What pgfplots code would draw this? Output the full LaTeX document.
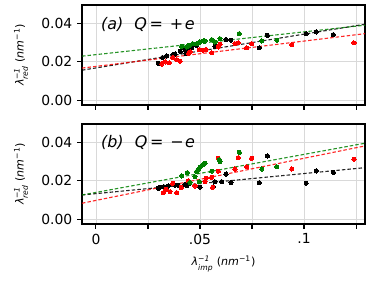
\documentclass[border=0pt]{standalone}
\usepackage{fontspec}
\setmainfont{DejaVu Sans}
\usepackage{pgfplots}
\pgfplotsset{compat=1.18}
\definecolor{mgreen}{HTML}{008000}
\definecolor{mred}{HTML}{FF0000}
\newcommand{\supsub}[2]{\ensuremath{^{\mbox{\fontsize{5.5}{6}\selectfont #1}}_{\mbox{\fontsize{5.5}{6}\selectfont\itshape #2}}}}
\pgfplotsset{
  panel/.style={
    width=203.76pt, height=72pt, scale only axis,
    xmin=-0.0067, xmax=0.1293, ymin=-0.0025, ymax=0.0495,
    scaled ticks=false,
    axis line style={line width=1.8pt},
    tick style={line width=0.8pt, black},
    tick align=outside, tickwidth=3.5pt,
    xtick={0,0.025,0.05,0.075,0.1,0.125},
    ytick={0,0.02,0.04}, yticklabels={0.00,0.02,0.04},
    grid=major, grid style={gray!30, line width=0.6pt},
    xtick pos=bottom, ytick pos=left,
    tick label style={font=\fontsize{10}{12}\selectfont},
    /pgf/number format/assume math mode=true,
    ylabel={\fontsize{8}{9}\selectfont\itshape λ\supsub{−1}{red}\upshape\ (\itshape nm\upshape\supsub{−1}{})},
    ylabel style={at={(axis description cs:-0.2155,0.5)}, anchor=center, rotate=0},
    clip=false,
  },
  dots/.style={only marks, mark=*, mark size=1.5pt, mark options={draw=#1, fill=#1, line width=0pt, solid}},
  fit/.style={#1, line width=0.8pt, opacity=0.85, dash pattern=on 2.5pt off 1.5pt},
}
\begin{document}
\begin{tikzpicture}[x=1pt,y=1pt]
\useasboundingbox (0,0) rectangle (269.28,201.6);
% top panel
\begin{axis}[panel, at={(59.04pt,126pt)}, anchor=south west, xticklabels={}]
\addplot[fit=black] coordinates {(-0.0067,0.0156) (0.1293,0.0395)};
\addplot[fit=mred] coordinates {(-0.0067,0.0167) (0.1293,0.0346)};
\addplot[fit=mgreen] coordinates {(-0.0067,0.0229) (0.1293,0.0390)};
\addplot[dots=black] table {
0.0300 0.0191
0.0320 0.0222
0.0340 0.0230
0.0370 0.0237
0.0380 0.0240
0.0405 0.0254
0.0428 0.0263
0.0433 0.0243
0.0444 0.0263
0.0460 0.0274
0.0484 0.0286
0.0572 0.0280
0.0625 0.0315
0.0648 0.0312
0.0785 0.0272
0.0824 0.0338
0.1010 0.0346
0.1058 0.0355
0.1141 0.0341
};
\addplot[dots=mred] table {
0.0316 0.0188
0.0332 0.0199
0.0352 0.0194
0.0369 0.0222
0.0388 0.0211
0.0404 0.0203
0.0445 0.0243
0.0452 0.0251
0.0497 0.0263
0.0516 0.0260
0.0529 0.0263
0.0556 0.0246
0.0588 0.0277
0.0596 0.0291
0.0668 0.0294
0.0684 0.0298
0.0724 0.0272
0.0748 0.0294
0.0941 0.0289
0.1240 0.0298
};
\addplot[dots=mgreen] table {
0.0412 0.0280
0.0436 0.0277
0.0449 0.0286
0.0465 0.0294
0.0484 0.0294
0.0500 0.0303
0.0516 0.0308
0.0524 0.0308
0.0556 0.0315
0.0572 0.0303
0.0596 0.0320
0.0689 0.0346
0.0797 0.0308
0.0869 0.0312
};
\node[anchor=west, font=\fontsize{11.5}{13}\selectfont] at (axis description cs:0.05,0.81) {\itshape (a)\hspace{8pt}Q\upshape\,=\hspace{5pt}+\hspace{1pt}\itshape e};
\end{axis}
% bottom panel
\begin{axis}[panel, at={(59.04pt,40.32pt)}, anchor=south west,
  xticklabels={0,,.05,,.1,},
  xlabel={\fontsize{8}{9}\selectfont\itshape λ\supsub{−1}{imp}\upshape\ (\itshape nm\upshape\supsub{−1}{})},
  xlabel style={at={(axis description cs:0.5,-0.40)}, anchor=center}]
\addplot[fit=black] coordinates {(-0.0067,0.0126) (0.1293,0.0268)};
\addplot[fit=mred] coordinates {(-0.0067,0.0083) (0.1293,0.0381)};
\addplot[fit=mgreen] coordinates {(-0.0067,0.0126) (0.1293,0.0395)};
\addplot[dots=black] table {
0.0300 0.0161
0.0308 0.0166
0.0327 0.0169
0.0348 0.0173
0.0380 0.0177
0.0396 0.0177
0.0428 0.0180
0.0436 0.0175
0.0449 0.0187
0.0500 0.0166
0.0564 0.0169
0.0572 0.0195
0.0604 0.0195
0.0625 0.0235
0.0649 0.0190
0.0785 0.0190
0.0824 0.0329
0.1010 0.0187
0.1058 0.0251
0.1141 0.0244
};
\addplot[dots=mred] table {
0.0324 0.0138
0.0337 0.0156
0.0356 0.0143
0.0388 0.0138
0.0369 0.0187
0.0410 0.0165
0.0444 0.0200
0.0476 0.0173
0.0524 0.0195
0.0529 0.0213
0.0556 0.0218
0.0561 0.0166
0.0588 0.0250
0.0588 0.0317
0.0668 0.0261
0.0684 0.0320
0.0724 0.0273
0.0748 0.0317
0.0941 0.0261
0.1240 0.0312
};
\addplot[dots=mgreen] table {
0.0412 0.0225
0.0439 0.0242
0.0452 0.0190
0.0476 0.0221
0.0484 0.0248
0.0492 0.0256
0.0500 0.0270
0.0513 0.0282
0.0524 0.0291
0.0497 0.0195
0.0556 0.0250
0.0593 0.0310
0.0596 0.0300
0.0689 0.0348
0.0797 0.0261
0.0869 0.0273
};
\node[anchor=west, font=\fontsize{11.5}{13}\selectfont] at (axis description cs:0.05,0.815) {\itshape (b)\hspace{8pt}Q\upshape\,=\hspace{5pt}−\hspace{1pt}\itshape e};
\end{axis}
\end{tikzpicture}
\end{document}
